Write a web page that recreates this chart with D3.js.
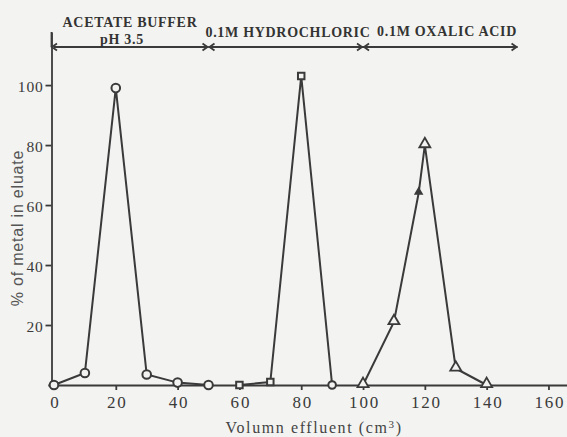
<!DOCTYPE html>
<html>
<head>
<meta charset="utf-8">
<script src="https://cdn.jsdelivr.net/npm/d3@7"></script>
<style>
  body { margin: 0; background: #f3f3f1; }
  svg { display: block; background: #f3f3f1; }
  .axis path, .axis line { stroke: #3a3a3a; stroke-width: 1.8; }
  .axis text { font-family: "Liberation Serif", serif; fill: #3a3a3a; }
</style>
</head>
<body>
<svg></svg>
<script>
(function () {
  var width = 567, height = 437;

  // --- data ---
  var acetateX = [0, 10, 20, 30, 40, 50];
  var acetateY = [0, 4, 99, 3.5, 0.8, 0];
  var hclX = [60, 70, 80, 90];
  var hclY = [0, 1, 103, 0];
  var hclMarks = ["square", "square", "square", "circle"];
  var oxalicX = [100, 110, 118, 120, 130, 140];
  var oxalicY = [0, 21, 64, 80, 5.5, 0];
  var oxalicMarks = ["big", "big", "small", "big", "big", "big"];

  var xTicks = [0, 20, 40, 60, 80, 100, 120, 140, 160];
  var yTicks = [20, 40, 60, 80, 100];

  var phaseStart = [0, 50, 100];
  var phaseEnd = [50, 100, 150];
  var phaseLabels = [["ACETATE BUFFER", "pH 3.5"], ["0.1M HYDROCHLORIC"], ["0.1M OXALIC ACID"]];

  var svg = d3.select("svg").attr("width", width).attr("height", height);

  var x = d3.scaleLinear().domain([-2, 166]).range([47.8, 567]);
  var y = d3.scaleLinear().domain([0, 117.7]).range([385, 32]);
  var axisX = 51.5;
  var ink = "#3a3a3a";

  // x axis
  var gx = svg.append("g")
    .attr("class", "axis")
    .attr("transform", "translate(0," + y(0) + ")")
    .call(d3.axisBottom(x).tickValues(xTicks).tickSize(5).tickSizeOuter(0).tickPadding(6));
  gx.selectAll("text").style("font-size", "17px").style("letter-spacing", "1.8px")
    .attr("dx", "1px");

  // y axis
  var gy = svg.append("g")
    .attr("class", "axis")
    .attr("transform", "translate(" + axisX + ",0)")
    .call(d3.axisLeft(y).tickValues(yTicks).tickSize(6).tickSizeOuter(0).tickPadding(2));
  gy.selectAll("text").style("font-size", "15.5px").style("letter-spacing", "0.8px").attr("dy", "0.4em");

  // axis titles
  svg.append("text")
    .attr("x", 314).attr("y", 433)
    .attr("text-anchor", "middle")
    .style("font-family", "Liberation Serif, serif")
    .style("font-size", "16px")
    .style("letter-spacing", "1.6px")
    .style("fill", "#444")
    .html("Volumn effluent (cm<tspan dy='-5' font-size='11px'>3</tspan><tspan dy='5'>)</tspan>");

  svg.append("text")
    .attr("transform", "translate(23,228) rotate(-90)")
    .attr("text-anchor", "middle")
    .style("font-family", "Liberation Sans, sans-serif")
    .style("font-size", "16px")
    .style("letter-spacing", "0.8px")
    .style("fill", "#555")
    .text("% of metal in eluate");

  // phase arrows above the plot
  var arrowY = 47;
  var ah = 5;
  svg.append("line")
    .attr("x1", axisX).attr("x2", axisX)
    .attr("y1", 32).attr("y2", arrowY)
    .attr("stroke", ink).attr("stroke-width", 1.8);

  var phases = phaseStart.map(function (s, i) {
    return {s: s, e: phaseEnd[i], lab: phaseLabels[i]};
  });
  var pg = svg.selectAll(".phase").data(phases).enter().append("g").attr("class", "phase");
  pg.append("line")
    .attr("x1", function (d) { return x(d.s); })
    .attr("x2", function (d) { return x(d.e); })
    .attr("y1", arrowY).attr("y2", arrowY)
    .attr("stroke", ink).attr("stroke-width", 1.8);
  pg.append("path")
    .attr("d", function (d) {
      var a = x(d.s) + (d.s === 0 ? -2 : 1), b = x(d.e) - 1;
      return "M" + (a + ah) + "," + (arrowY - ah * 0.7) + "L" + a + "," + arrowY + "L" + (a + ah) + "," + (arrowY + ah * 0.7) +
             "M" + (b - ah) + "," + (arrowY - ah * 0.7) + "L" + b + "," + arrowY + "L" + (b - ah) + "," + (arrowY + ah * 0.7);
    })
    .attr("fill", "none").attr("stroke", ink).attr("stroke-width", 1.8);

  var labelPos = [[[130, 27], [122, 44]], [[288, 37]], [[447, 36]]];
  pg.each(function (d, i) {
    var g = d3.select(this);
    d.lab.forEach(function (t, j) {
      g.append("text")
        .attr("x", labelPos[i][j][0]).attr("y", labelPos[i][j][1])
        .attr("text-anchor", "middle")
        .style("font-family", "Liberation Serif, serif")
        .style("font-weight", "bold")
        .style("font-size", "14px")
        .style("letter-spacing", "0.7px")
        .style("fill", "#333")
        .text(t);
    });
  });

  // series lines
  var line = d3.line()
    .x(function (d) { return x(d[0]); })
    .y(function (d) { return y(d[1]); });

  var series = [
    d3.zip(acetateX, acetateY),
    d3.zip(hclX, hclY),
    d3.zip(oxalicX, oxalicY)
  ];
  svg.selectAll(".serie").data(series).enter().append("path")
    .attr("class", "serie")
    .attr("d", line)
    .attr("fill", "none")
    .attr("stroke", ink)
    .attr("stroke-width", 2);

  // markers
  svg.selectAll(".circ").data(d3.zip(acetateX, acetateY)).enter().append("circle")
    .attr("cx", function (d) { return x(d[0]); })
    .attr("cy", function (d) { return y(d[1]); })
    .attr("r", 4.3)
    .attr("fill", "#f3f3f1").attr("stroke", ink).attr("stroke-width", 2);

  svg.selectAll(".hcl").data(d3.zip(hclX, hclY, hclMarks)).enter().append("path")
    .attr("transform", function (d) { return "translate(" + x(d[0]) + "," + y(d[1]) + ")"; })
    .attr("d", function (d) {
      return d3.symbol().type(d[2] === "circle" ? d3.symbolCircle : d3.symbolSquare).size(d[2] === "circle" ? 45 : 42)();
    })
    .attr("fill", "#f3f3f1").attr("stroke", ink).attr("stroke-width", 2);

  svg.selectAll(".tri").data(d3.zip(oxalicX, oxalicY, oxalicMarks)).enter().append("path")
    .attr("transform", function (d) { return "translate(" + x(d[0]) + "," + (y(d[1]) - 1) + ")"; })
    .attr("d", function (d) { return d3.symbol().type(d3.symbolTriangle).size(d[2] === "small" ? 18 : 52)(); })
    .attr("fill", function (d) { return d[2] === "small" ? ink : "#f3f3f1"; })
    .attr("stroke", ink).attr("stroke-width", 1.8);
})();
</script>
</body>
</html>
